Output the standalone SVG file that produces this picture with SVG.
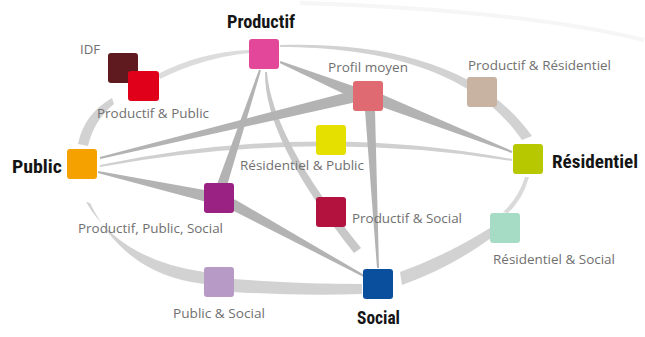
<svg xmlns="http://www.w3.org/2000/svg" width="645" height="337" viewBox="0 0 645 337">
<style>
.lbl{font-family:"Open Sans","Noto Sans","Liberation Sans",sans-serif;font-size:12.5px;fill:#707070}
.big{font-family:"Liberation Sans Narrow","Roboto Condensed","Open Sans","Liberation Sans",sans-serif;font-weight:bold;font-size:18px;fill:#151515}
.sq{stroke:none}
.ring{fill:#d2d2d2}
.wedge{fill:#b3b3b3}
.soft{fill:#c8c8c8}
</style>
<rect width="645" height="337" fill="#ffffff"/>
<g id="connectors">
  <path d="M300,3 Q520,10 644,40" fill="none" stroke="#f6f6f6" stroke-width="4"/>
  <path class="ring" d="M158,74 Q200,52 249,50 L249,53 Q202,58 160,79 Z" style="fill:#dcdcdc"/>
  <path class="ring" d="M78,144 Q84,114 112,98 L114,104 Q94,120 88,146 Z"/>
  <path class="ring" d="M280,45 C390,42 482,66 532,136 L522,140 C478,75 390,47 280,47 Z"/>
  <path class="ring" d="M525,177 Q519,197 503,212 L508,213 Q523,199 529,177 Z" style="fill:#dadada"/>
  <path class="ring" d="M490,228 Q445,256 400,272 L402,285 Q450,268 491,238 Z"/>
  <path class="ring" d="M233,279 Q300,284 362,284 L362,294 Q300,296 233,292 Z"/>
  <path class="ring" d="M204,272 Q120,260 86,202 L90,203 Q125,275 204,284 Z"/>
  <path class="ring" d="M100,165 Q310,121 512,159 L512,161 Q310,129 100,167 Z" style="fill:#d0d0d0"/>
  <path class="soft" d="M265,72 Q264,140 354,253 L361,248 Q272,138 267,72 Z"/>
  <polygon class="wedge" points="280.4,61.1 360.3,88.5 355.7,99.6 279.6,62.9"/>
  <polygon class="wedge" points="354.6,90.2 357.4,101.8 100.2,159 99.8,157"/>
  <polygon class="wedge" points="382.2,94.4 512.4,151.1 511.6,152.9 377.8,105.6"/>
  <polygon class="wedge" points="365,110 375,110 379,268 377,268"/>
  <polygon class="wedge" points="259,69.7 261,70.3 226.8,186.6 217.3,183.4"/>
  <polygon class="wedge" points="98.2,171 207.2,190.6 204.8,201.4 97.8,173"/>
  <polygon class="wedge" points="234.6,199.2 364.5,275.1 363.5,276.9 229.4,208.8"/>
</g>
<g id="node-productif">
  <rect class="sq" x="249" y="39" width="30" height="30" rx="3" fill="#e2479a"/>
  <text class="big" x="227" y="28" textLength="68" lengthAdjust="spacingAndGlyphs">Productif</text>
</g>
<g id="node-idf">
  <rect class="sq" x="108" y="53" width="30" height="30" rx="3" fill="#5e1a1e"/>
  <text class="lbl" x="80" y="54" textLength="20" lengthAdjust="spacingAndGlyphs">IDF</text>
</g>
<g id="node-productif-public">
  <rect class="sq" x="128" y="71" width="31" height="30" rx="3" fill="#e0001a"/>
  <text class="lbl" x="97" y="118" textLength="112" lengthAdjust="spacingAndGlyphs">Productif &amp; Public</text>
</g>
<g id="node-public">
  <rect class="sq" x="67" y="149" width="30" height="30" rx="3" fill="#f5a200"/>
  <text class="big" x="12" y="173" font-size="19" textLength="50" lengthAdjust="spacingAndGlyphs">Public</text>
</g>
<g id="node-profil-moyen">
  <rect class="sq" x="353" y="81" width="30" height="30" rx="3" fill="#e06a72"/>
  <text class="lbl" x="328" y="72" textLength="80" lengthAdjust="spacingAndGlyphs">Profil moyen</text>
</g>
<g id="node-productif-residentiel">
  <rect class="sq" x="467" y="77" width="30" height="30" rx="3" fill="#c8b2a2"/>
  <text class="lbl" x="468" y="70" textLength="143" lengthAdjust="spacingAndGlyphs">Productif &amp; Résidentiel</text>
</g>
<g id="node-residentiel">
  <rect class="sq" x="513" y="144" width="30" height="30" rx="3" fill="#b8c800"/>
  <text class="big" x="552" y="168" textLength="86" lengthAdjust="spacingAndGlyphs">Résidentiel</text>
</g>
<g id="node-residentiel-public">
  <rect class="sq" x="316" y="125" width="30" height="30" rx="3" fill="#e6e000"/>
  <text class="lbl" x="240" y="170" textLength="124" lengthAdjust="spacingAndGlyphs">Résidentiel &amp; Public</text>
</g>
<g id="node-productif-public-social">
  <rect class="sq" x="204" y="183" width="30" height="30" rx="3" fill="#9a2282"/>
  <text class="lbl" x="78" y="233" textLength="145" lengthAdjust="spacingAndGlyphs">Productif, Public, Social</text>
</g>
<g id="node-productif-social">
  <rect class="sq" x="316" y="197" width="30" height="30" rx="3" fill="#b3123f"/>
  <text class="lbl" x="352" y="223" textLength="110" lengthAdjust="spacingAndGlyphs">Productif &amp; Social</text>
</g>
<g id="node-residentiel-social">
  <rect class="sq" x="490" y="213" width="30" height="30" rx="3" fill="#a6dcc6"/>
  <text class="lbl" x="493" y="264" textLength="122" lengthAdjust="spacingAndGlyphs">Résidentiel &amp; Social</text>
</g>
<g id="node-public-social">
  <rect class="sq" x="204" y="267" width="30" height="30" rx="3" fill="#b89ac6"/>
  <text class="lbl" x="173" y="318" textLength="92" lengthAdjust="spacingAndGlyphs">Public &amp; Social</text>
</g>
<g id="node-social">
  <rect class="sq" x="363" y="269" width="30" height="30" rx="3" fill="#0a4f9e"/>
  <text class="big" x="357" y="324" textLength="43" lengthAdjust="spacingAndGlyphs">Social</text>
</g>
</svg>
